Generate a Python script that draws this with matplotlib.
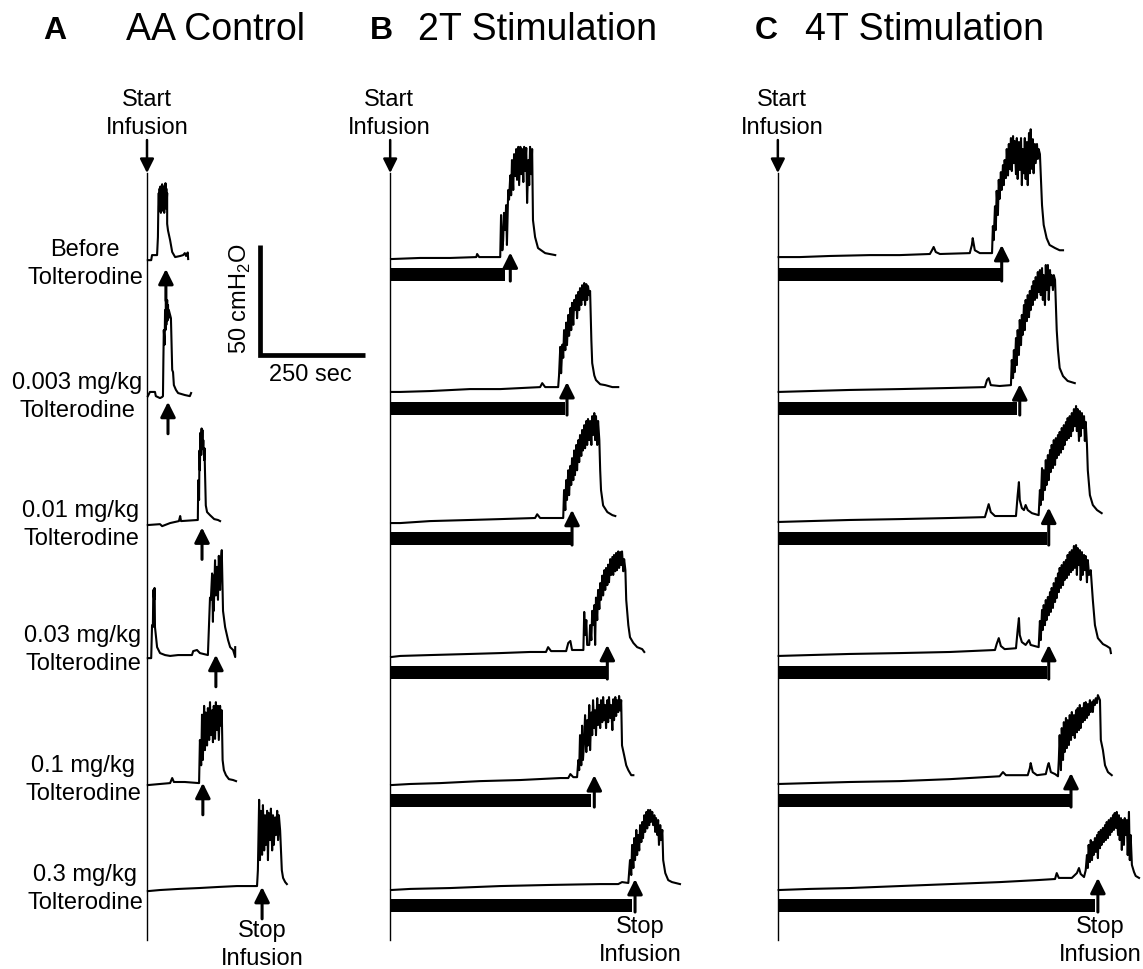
import matplotlib
matplotlib.use("Agg")
import matplotlib.pyplot as plt

plt.rcParams['font.family'] = ['Liberation Sans', 'DejaVu Sans']
plt.rcParams['mathtext.fontset'] = 'custom'
plt.rcParams['mathtext.rm'] = 'Liberation Sans'

# ---- text ----
PANEL_LETTERS = ['A', 'B', 'C']
PANEL_TITLES = ['AA Control', '2T Stimulation', '4T Stimulation']
DOSE_LABELS = ['Before\nTolterodine', '0.003 mg/kg\nTolterodine', '0.01 mg/kg\nTolterodine',
               '0.03 mg/kg\nTolterodine', '0.1 mg/kg\nTolterodine', '0.3 mg/kg\nTolterodine']
SCALE_SEC = 250
SCALE_CM = 50

# ---- traces: (seconds from start of infusion, cmH2O above row baseline) ----
A_ROW1 = [(2, -0.5), (10, -0.5), (12, 1.8), (24, 1.8), (26, 10), (27, 24), (28, 30), (29, 22), (30, 32),
          (31, 23), (32, 33), (33, 21), (34, 31), (35, 24), (36, 34), (37, 22), (38, 32), (39, 25), (40, 33),
          (41, 21), (42, 30), (43, 24), (44, 34.5), (45, 23), (46, 32), (47, 26), (48, 30), (48, 16), (50, 13),
          (55, 8.6), (60, 3.2), (67, 0.9), (79, 1.4), (86, 1.8), (90, 2.7), (93, 1.4), (97, 3), (98, 0)]
A_ROW2 = [(2, -1.4), (7, 0.5), (19, 0.5), (21, -1.4), (31, -2.3), (36, -1.8), (38, -1.4), (39, 15), (40, 28.6),
          (42, 22), (43, 37.7), (44, 28.6), (45, 41.4), (46, 31), (48, 42.3), (49, 33), (50, 40), (51, 34),
          (52, 37.7), (55, 35.5), (57, 34), (60, 10.5), (62, 9.5), (64, 3.6), (69, 1.4), (74, 0), (90, -0.9),
          (102, -1.4), (105, 0)]
A_ROW3 = [(2, -0.9), (31, -0.5), (36, -1.4), (55, 0), (76, 0.9), (79, 3.2), (81, 0.9), (121, 1.4), (122, 19.5),
          (124, 10.5), (125, 33), (126, 24), (127, 41), (129, 31), (130, 43), (131, 35.5), (132, 42.3),
          (133, 33.6), (134, 37.7), (136, 28.6), (137, 34), (138, 24), (140, 8), (143, 5), (150, 3.6),
          (160, 1.8), (169, 1.4), (174, 0.9)]
A_ROW4 = [(2, -0.5), (10, -0.5), (12, 14.5), (14, 13.6), (15, 30.5), (17, 26), (18, 31.4), (19, 13.6),
          (21, 10), (24, 4.5), (31, 1.8), (43, 0.9), (55, 0.5), (74, 0.9), (107, 0.9), (110, 2.7), (119, 3.2),
          (126, 1.8), (145, 0.9), (150, 27), (152, 26), (155, 38), (157, 16), (158, 37), (159, 21), (162, 44),
          (164, 28), (167, 41), (169, 26), (171, 46), (174, 30.5), (176, 44), (178, 48.6), (181, 21),
          (186, 13.6), (193, 7.7), (198, 4.5), (205, 3.2), (210, 0), (210, 4.5)]
A_ROW5 = [(2, 0), (31, 0.5), (55, 0.9), (60, 3.2), (64, 1.4), (90, 1.4), (124, 0.9), (126, 20.5), (129, 9),
          (131, 32), (133, 11.4), (136, 36), (138, 15.9), (140, 33), (143, 18), (145, 35), (148, 20.5),
          (150, 37.7), (152, 22.7), (155, 34), (157, 19.5), (159, 36), (162, 21), (164, 37.7), (167, 25),
          (169, 36), (171, 20.5), (174, 36), (176, 27), (178, 34), (180, 11.4), (183, 6.8), (188, 4.5),
          (195, 2.7), (205, 2.3), (212, 1.8)]
A_ROW6 = [(2, -0.5), (31, 0), (76, 0.5), (124, 0.9), (171, 1.4), (214, 1.8), (262, 1.8), (264, 9), (267, 41),
          (269, 13.6), (271, 36), (274, 16), (276, 38.6), (279, 18), (281, 34), (283, 20.5), (286, 36),
          (288, 13.6), (290, 35), (293, 22.7), (295, 37), (298, 18), (300, 34), (302, 20.5), (305, 33),
          (307, 25), (310, 36), (312, 22.7), (314, 34), (317, 27), (319, 18), (321, 9), (324, 5.5), (329, 3.6),
          (333, 2.7)]

B_ROW1 = [(2, 0), (71, 0.5), (143, 0.5), (205, 0.9), (207, 2.3), (212, 0.9), (262, 0.9), (264, 20), (267, 4),
          (269, 8.6), (271, 21), (274, 13.2), (276, 24.5), (278, 6.4), (281, 31.4), (283, 27), (286, 38),
          (288, 29), (290, 45), (293, 31.4), (295, 47.7), (298, 37.7), (300, 50), (302, 36), (305, 51),
          (307, 33.6), (310, 51), (312, 38.6), (314, 50), (317, 35), (319, 51), (321, 40), (324, 50.5),
          (326, 25.5), (329, 45), (331, 33.6), (333, 51), (336, 38.6), (338, 50), (340, 17.7), (345, 10),
          (352, 5), (369, 2.7), (393, 1.8)]
B_ROW2 = [(2, 0.5), (24, 0.5), (95, 0.9), (190, 1.8), (262, 1.8), (357, 2.7), (362, 4.5), (369, 2.7),
          (400, 2.7), (402, 8), (405, 21), (407, 9), (410, 22), (412, 16), (414, 28.6), (417, 19.5), (419, 32),
          (421, 21.8), (424, 35.5), (426, 26), (429, 38.6), (431, 28.6), (433, 41), (436, 31), (438, 42.3),
          (440, 37.7), (443, 44.5), (445, 34), (448, 46), (450, 37.7), (452, 47.7), (455, 40), (457, 49),
          (459, 42.3), (462, 50), (464, 40), (467, 49.5), (469, 42.3), (471, 48.6), (474, 44.5), (476, 46.4),
          (479, 24), (481, 13.6), (486, 8), (490, 5.9), (500, 4), (512, 3.6), (529, 2.7), (543, 2.7)]
B_ROW3 = [(2, 0), (24, 0), (95, 0.9), (190, 1.4), (262, 1.8), (345, 2.3), (350, 4), (357, 2.3), (412, 2.3),
          (414, 15), (417, 5.9), (419, 19.5), (421, 10.5), (424, 24), (426, 12.7), (429, 26), (431, 17.3),
          (433, 29.5), (436, 19.5), (438, 33), (440, 21.8), (443, 35.5), (445, 24), (448, 37.7), (450, 27.7),
          (452, 40), (455, 30.5), (457, 42.3), (459, 33), (462, 44.5), (464, 34), (467, 46.4), (469, 35.5),
          (471, 47.3), (474, 37.7), (476, 46.4), (479, 35.5), (481, 48.6), (483, 40), (486, 50), (488, 37.7),
          (490, 48.6), (493, 35.5), (495, 46.4), (498, 37.7), (500, 24), (502, 15), (507, 8), (517, 5),
          (529, 3.6), (536, 3.2)]
B_ROW4 = [(2, 0), (24, 0.5), (95, 0.9), (190, 1.4), (262, 1.8), (333, 2.3), (371, 2.3), (376, 4.5),
          (383, 2.7), (419, 2.7), (424, 6.4), (429, 7.3), (433, 3.2), (460, 3.2), (462, 20.5), (464, 10),
          (467, 16.8), (469, 5.5), (474, 5.5), (476, 14.5), (479, 7.7), (481, 21), (483, 14.5), (486, 23.6),
          (488, 5.5), (490, 27), (493, 16.8), (495, 30.5), (498, 21.8), (500, 33.6), (502, 26), (505, 37),
          (507, 28), (510, 39.5), (512, 30.5), (514, 40.5), (517, 32.7), (519, 42), (521, 34), (524, 44.5),
          (526, 37.3), (529, 45.5), (531, 37.3), (533, 46.4), (536, 39), (538, 47.3), (540, 39.5), (543, 48),
          (545, 40.5), (548, 47.7), (550, 41.8), (552, 48), (555, 39), (557, 44.5), (560, 39.5), (562, 26),
          (567, 14.5), (571, 9), (579, 6.4), (588, 4.5), (600, 3.6), (605, 2.3)]
B_ROW5 = [(2, 0), (48, 0.5), (119, 0.9), (214, 1.8), (310, 2.3), (405, 3.2), (424, 3.2), (429, 5), (436, 3.6),
          (445, 3.6), (448, 11.4), (450, 6.8), (452, 22.7), (455, 9), (457, 27), (459, 11.4), (462, 20.5),
          (464, 31.8), (467, 15), (469, 29.5), (471, 18), (474, 36.4), (476, 15.9), (479, 33), (481, 22.7),
          (483, 38.6), (486, 25.9), (488, 34), (490, 22.7), (493, 39.5), (495, 27.3), (498, 36.4), (500, 25.9),
          (502, 38.6), (505, 28.6), (507, 40), (510, 29.5), (512, 36.4), (514, 25.9), (517, 38.6), (519, 28.6),
          (521, 40), (524, 30.5), (526, 36.4), (529, 25), (531, 39), (533, 29.5), (536, 40), (538, 31.4),
          (540, 38.6), (543, 33.2), (545, 40.5), (548, 34), (550, 38.6), (552, 18), (557, 13.6), (562, 9),
          (567, 6.8), (574, 4.5), (579, 4.5)]
B_ROW6 = [(2, 0), (48, 0.5), (143, 0.9), (262, 1.8), (379, 2.3), (500, 2.7), (543, 2.7), (552, 3.6),
          (567, 3.2), (571, 13.6), (574, 6.8), (576, 20.5), (579, 10), (581, 23.6), (583, 13.6), (586, 27.3),
          (588, 15.9), (590, 25), (593, 18), (595, 29.5), (598, 21.8), (600, 30.9), (602, 23.6), (605, 34),
          (607, 26.4), (610, 35.5), (612, 28), (614, 36.4), (617, 29.5), (619, 36.4), (621, 31), (624, 35.5),
          (626, 29.5), (629, 34), (631, 26.4), (633, 32.7), (636, 25), (638, 31.8), (640, 20.5), (643, 29.5),
          (645, 22.7), (648, 27.3), (650, 13.6), (655, 7.7), (662, 4.5), (671, 3.6), (690, 2.7)]

C_ROW1 = [(2, 0.9), (52, 0.9), (124, 1.4), (219, 1.8), (290, 1.8), (362, 2.3), (367, 4), (371, 5.5),
          (376, 3.2), (386, 2.3), (457, 2.7), (462, 6.4), (464, 9.5), (469, 4), (481, 2.7), (510, 2.7),
          (512, 15), (514, 8.6), (517, 24), (519, 13.2), (521, 31), (524, 20), (526, 36), (528, 27.3),
          (531, 39.5), (533, 31.4), (536, 42.7), (538, 33.6), (540, 45), (543, 36.8), (545, 50), (548, 38),
          (550, 52.3), (552, 40.9), (555, 55), (557, 40), (560, 55.9), (562, 43.6), (564, 53.6), (567, 38.6),
          (569, 55), (571, 36.4), (574, 53.2), (576, 40.5), (579, 55), (581, 33.6), (583, 50), (586, 39),
          (588, 55), (590, 36.4), (593, 53.2), (595, 33.6), (598, 57.3), (600, 39), (602, 59), (605, 41),
          (607, 54.5), (609, 39), (612, 52.3), (614, 43.6), (617, 52.3), (619, 45.5), (621, 50), (624, 47.7),
          (629, 24.5), (633, 15.5), (640, 9.5), (647, 6.4), (660, 5), (671, 4), (679, 4)]
C_ROW2 = [(2, 0.5), (76, 0.9), (171, 1.4), (290, 1.8), (410, 2.3), (493, 2.7), (498, 5.9), (502, 6.8),
          (507, 3.6), (528, 3.2), (555, 3.6), (557, 15), (560, 6.8), (562, 19.5), (564, 9.5), (567, 25),
          (569, 12.7), (571, 28.6), (574, 17.3), (576, 33.2), (579, 21.8), (581, 35.5), (583, 26.4), (586, 40),
          (588, 28.6), (590, 42.3), (593, 32.7), (595, 44.5), (598, 34.5), (600, 46.4), (602, 37.7),
          (605, 48.6), (607, 40), (609, 50.9), (612, 42.3), (614, 52.7), (617, 43.2), (619, 55), (621, 45.9),
          (624, 55.9), (626, 44.5), (629, 56.8), (631, 42.3), (633, 53.6), (636, 40), (638, 58.2), (640, 46.8),
          (643, 58.2), (645, 42.3), (648, 55.9), (650, 49), (652, 53.6), (655, 46.8), (657, 53.6), (660, 51.4),
          (664, 28.6), (667, 19.5), (671, 11.4), (679, 7.7), (690, 5.5), (707, 4.5)]
C_ROW3 = [(2, 0.5), (76, 0.9), (171, 1.4), (290, 1.8), (410, 2.3), (493, 2.7), (498, 5.9), (502, 8.6),
          (507, 5), (517, 3.2), (567, 3.2), (571, 12.7), (574, 18.6), (576, 10.5), (581, 6.8), (586, 5.9),
          (590, 8.2), (595, 5.9), (605, 4.5), (621, 3.6), (624, 15), (626, 8.2), (629, 25), (631, 10.5),
          (633, 24), (636, 15), (638, 28.6), (640, 17.3), (643, 30.9), (645, 19.5), (648, 33.2), (650, 23.2),
          (652, 35.5), (655, 25), (657, 37.7), (660, 26.4), (662, 38.6), (664, 29.5), (667, 40), (669, 30.9),
          (671, 41.4), (674, 32), (676, 43.2), (679, 33.6), (681, 44.5), (683, 35.5), (686, 45.9), (688, 37.7),
          (690, 47.7), (693, 38.6), (695, 48.6), (698, 39.5), (700, 50), (702, 41.8), (705, 51.8), (707, 44),
          (710, 53.2), (712, 41.8), (714, 51.8), (717, 37.3), (719, 50.9), (721, 39.5), (724, 50), (726, 43.2),
          (729, 48.6), (731, 37.3), (733, 46), (736, 35.5), (738, 24), (743, 12.7), (750, 8.2), (760, 5.9),
          (771, 4.5)]
C_ROW4 = [(2, 0.5), (76, 0.9), (171, 1.4), (290, 1.8), (410, 2.3), (517, 3.2), (521, 5.9), (526, 8.6),
          (531, 5), (540, 3.6), (567, 4), (571, 12.3), (574, 17.7), (576, 10), (581, 6.8), (590, 5.5),
          (598, 7.7), (602, 5.5), (621, 4.5), (624, 16.4), (626, 7.7), (629, 21.4), (631, 12.3), (633, 23.6),
          (636, 14.5), (638, 25.9), (640, 16.8), (643, 27.3), (645, 19), (648, 29.5), (650, 20.5), (652, 31.4),
          (655, 22.3), (657, 33.6), (660, 25), (662, 35.9), (664, 26.8), (667, 38), (669, 29.5), (671, 40.5),
          (674, 31.4), (676, 41.8), (679, 32.7), (681, 43.2), (683, 35), (686, 44.1), (688, 35.9), (690, 46.4),
          (693, 37.3), (695, 47.7), (698, 38.6), (700, 48.6), (702, 39.5), (705, 50.5), (707, 40.5),
          (710, 50.9), (712, 37.3), (714, 49.5), (717, 41.8), (719, 48.6), (721, 35), (724, 47.7), (726, 37.3),
          (729, 46.4), (731, 39.5), (733, 45.9), (736, 34), (738, 44.1), (741, 37.3), (745, 39.5), (750, 25.9),
          (755, 14.5), (762, 8.6), (774, 5.9), (783, 5), (791, 4), (793, 1.8)]
C_ROW5 = [(2, 0.5), (76, 0.9), (171, 1.4), (290, 1.8), (410, 2.7), (528, 4), (536, 5.9), (543, 4.5),
          (595, 4.5), (600, 7.7), (602, 10), (607, 5.9), (617, 4.5), (638, 5), (643, 9), (645, 10), (650, 5.9),
          (660, 5), (667, 4), (669, 11.4), (671, 22.7), (674, 6.8), (676, 25.9), (679, 11.4), (681, 28.6),
          (683, 15), (686, 30.5), (688, 16.8), (690, 29.5), (693, 18.2), (695, 31.8), (698, 20.5), (700, 33.2),
          (702, 22.7), (705, 31.8), (707, 21.4), (710, 34), (712, 24), (714, 35), (717, 25), (719, 36.4),
          (721, 25.9), (724, 35), (726, 28.6), (729, 37.3), (731, 29.5), (733, 37.7), (736, 30.5), (738, 36.8),
          (740, 31.8), (743, 38.6), (745, 33.2), (748, 37.7), (750, 33.2), (752, 38.6), (755, 36.4),
          (757, 39.5), (760, 37.3), (762, 40.9), (767, 38.6), (769, 20.5), (774, 15.9), (779, 9), (786, 5.9),
          (795, 4.5)]
C_ROW6 = [(2, 0), (76, 0.5), (171, 0.9), (290, 1.8), (410, 2.7), (528, 3.6), (617, 4.5), (660, 5),
          (664, 7.7), (669, 5.5), (700, 5.5), (712, 7.7), (717, 10), (721, 7.3), (729, 5.9), (733, 9),
          (736, 15.9), (738, 10), (740, 20.5), (743, 12.7), (745, 22.7), (748, 13.6), (750, 21.8), (752, 15.9),
          (755, 23.6), (757, 17.3), (760, 25), (762, 14.5), (764, 26.4), (767, 19), (769, 27.3), (771, 20.5),
          (774, 28.2), (776, 21.8), (779, 29.5), (781, 22.7), (783, 30.9), (786, 23.6), (788, 31.8), (791, 25),
          (793, 32.7), (795, 26.4), (798, 34), (800, 27.3), (802, 35), (805, 28.2), (807, 35.5), (810, 25),
          (812, 34), (814, 22.7), (817, 32.7), (819, 18.2), (821, 31.8), (824, 20.5), (826, 32.7), (829, 25),
          (831, 31.8), (833, 15.9), (836, 35.5), (838, 13.6), (840, 25), (843, 11.4), (848, 8.2), (852, 6.4),
          (860, 5.5)]

# stop-infusion time (arrow) and stimulation bar length, seconds
A_STOP = [45, 50, 131, 164, 133, 274]
B_STOP = [286, 421, 433, 517, 486, 583]
C_STOP = [533, 576, 645, 645, 698, 762]
B_STIM = [274, 417, 433, 517, 479, 576]
C_STIM = [531, 569, 640, 640, 700, 755]
# arrow tip height relative to row baseline, cmH2O
A_TIP = [-4.5, -4, -2, 1, 1, 1.4]
B_TIP = [3, 5, 6, 5.5, 4.5, 5]
C_TIP = [6.4, 4, 7, 5.5, 5.5, 5.5]

# ---- layout ----
W, H = 1143, 969
PX_PER_SEC = 0.42
PX_PER_CM = 2.2
PANEL_X0 = [350, 929, 1852]          # s, start-of-infusion line of each panel
ROW_BASE = [322.7, 261.8, 202.7, 141.8, 83.6, 35.9]   # cmH2O offset of each row
LINE_TOP, LINE_BOTTOM, START_TAIL = 361.8, 13.2, 376.8
BAR_CENTER, BAR_H = -7, 6
ARROW_A_LEN = 14.5
SCALE_ORIGIN = (619, 279)

fig = plt.figure(figsize=(W / 100, H / 100), dpi=100)
ax = fig.add_axes([0, 0, 1, 1])
ax.set_xlim(0, W / PX_PER_SEC)
ax.set_ylim(0, H / PX_PER_CM)
ax.axis('off')


def arrow(x0, y0, x1, y1, lw=2.2, ms=15):
    ax.annotate('', xy=(x1, y1), xytext=(x0, y0),
                arrowprops=dict(arrowstyle='-|>,head_length=0.6,head_width=0.3', lw=lw, color='k',
                                shrinkA=0, shrinkB=0, mutation_scale=ms))


def ftext(x, y, s, **kw):
    fig.text(x / W, 1 - y / H, s, **kw)


traces = [[A_ROW1, A_ROW2, A_ROW3, A_ROW4, A_ROW5, A_ROW6],
          [B_ROW1, B_ROW2, B_ROW3, B_ROW4, B_ROW5, B_ROW6],
          [C_ROW1, C_ROW2, C_ROW3, C_ROW4, C_ROW5, C_ROW6]]
stops = [A_STOP, B_STOP, C_STOP]
stims = [None, B_STIM, C_STIM]
tips = [A_TIP, B_TIP, C_TIP]

for k in range(3):
    x0 = PANEL_X0[k]
    ax.plot([x0, x0], [LINE_BOTTOM, LINE_TOP], color='k', lw=1.0)
    arrow(x0, START_TAIL, x0, LINE_TOP, lw=1.8, ms=14)
    for r in range(6):
        base = ROW_BASE[r]
        tr = traces[k][r]
        ax.plot([x0 + t for t, p in tr], [base + p for t, p in tr], color='k', lw=1.5)
        tip_y = base + tips[k][r]
        if stims[k] is None:
            tail_y = tip_y - ARROW_A_LEN
        else:
            ax.barh(base + BAR_CENTER, stims[k][r], left=x0, height=BAR_H, color='k')
            tail_y = base + BAR_CENTER - BAR_H / 2
        arrow(x0 + stops[k][r], tail_y, x0 + stops[k][r], tip_y)

# scale bar
sx, sy = SCALE_ORIGIN
ax.plot([sx, sx, sx + SCALE_SEC], [sy + SCALE_CM, sy, sy], color='k', lw=3.4,
        solid_joinstyle='miter', solid_capstyle='butt')

# texts
LBL = 17
LS = 1.4
letter_x = [55, 381, 766]
title_x = [126, 418, 805]
for k in range(3):
    ftext(letter_x[k], 31, PANEL_LETTERS[k], fontsize=23, fontweight='bold', ha='center', va='center')
    ftext(title_x[k], 30, PANEL_TITLES[k], fontsize=27, ha='left', va='center')

for x in [147, 389, 782]:
    ftext(x, 114, 'Start\nInfusion', fontsize=LBL, ha='center', va='center', linespacing=LS)
for x, y in [(262, 945), (640, 941), (1100, 941)]:
    ftext(x, y, 'Stop\nInfusion', fontsize=LBL, ha='center', va='center', linespacing=LS)

label_x = [85, 77, 81, 83, 83, 85]
label_y = [264, 397, 525, 650, 780, 889]
for r in range(6):
    ftext(label_x[r], label_y[r], DOSE_LABELS[r], fontsize=LBL, ha='center', va='center', linespacing=LS)

ftext(310, 375, f'{SCALE_SEC} sec', fontsize=LBL, ha='center', va='center')
ftext(240, 299, f'{SCALE_CM} cmH$_\\mathregular{{2}}$O', fontsize=LBL, ha='center', va='center', rotation=90)

fig.savefig('out.png', dpi=100, facecolor='white')
